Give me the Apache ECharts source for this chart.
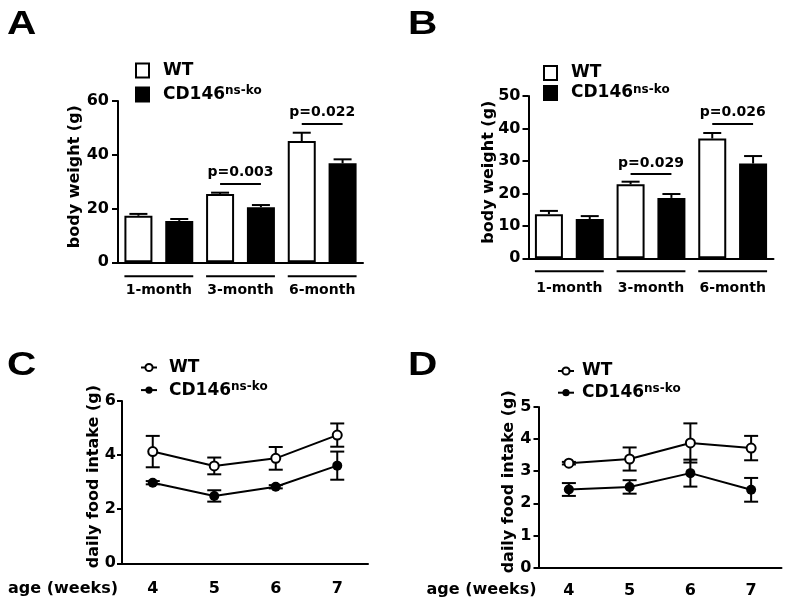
<!DOCTYPE html>
<html>
<head>
<meta charset="utf-8">
<script src="https://cdn.jsdelivr.net/npm/echarts@6/dist/echarts.min.js"></script>
<style>
  body { margin: 0; background: #fff; }
  .panel { position: absolute; }
</style>
</head>
<body>
<div id="pA" class="panel" style="left:0;top:0;width:400px;height:305px"></div>
<div id="pB" class="panel" style="left:400px;top:0;width:389px;height:305px"></div>
<div id="pC" class="panel" style="left:0;top:305px;width:400px;height:301px"></div>
<div id="pD" class="panel" style="left:400px;top:305px;width:389px;height:301px"></div>
<script>
// values (mean and SEM)
const ageGroups = ['1-month', '3-month', '6-month'];

const weightA_WT = [17.3, 25.4, 45.1];
const weightA_WT_sem = [0.7, 0.5, 3.1];
const weightA_KO = [15.4, 20.5, 36.8];
const weightA_KO_sem = [0.7, 0.8, 1.5];
const pA_groups = [1, 2];
const pA_level = [29.4, 51.5];
const pA_text = ['p=0.003', 'p=0.022'];

const weightB_WT = [13.6, 22.8, 36.9];
const weightB_WT_sem = [1.0, 0.8, 1.7];
const weightB_KO = [12.1, 18.6, 29.2];
const weightB_KO_sem = [0.9, 1.2, 2.3];
const pB_groups = [1, 2];
const pB_level = [25.9, 41.5];
const pB_text = ['p=0.029', 'p=0.026'];

const weeks = ['4', '5', '6', '7'];
const foodC_WT = [4.13, 3.60, 3.88, 4.74];
const foodC_WT_sem = [0.58, 0.31, 0.42, 0.43];
const foodC_KO = [2.98, 2.49, 2.83, 3.61];
const foodC_KO_sem = [0.06, 0.21, 0.06, 0.52];

const foodD_WT = [3.25, 3.38, 3.88, 3.72];
const foodD_WT_sem = [0.04, 0.36, 0.61, 0.38];
const foodD_KO = [2.43, 2.51, 2.94, 2.42];
const foodD_KO_sem = [0.20, 0.21, 0.42, 0.37];

const KO = 'CD146ns-ko';
const FONT = 'DejaVu Sans';
const txt = { fontFamily: FONT, fontWeight: 'bold', color: '#000' };
const black = { color: '#000', width: 2 };

function legendFmt(name) {
  return name === KO ? 'CD146{sup|ns-ko}' : name;
}
const legendText = {
  fontFamily: FONT, fontWeight: 'bold', color: '#000', fontSize: 17, lineHeight: 19,
  rich: { sup: { fontFamily: FONT, fontWeight: 'bold', color: '#000', fontSize: 12, verticalAlign: 'top' } }
};

function letter(t, x, y) {
  return {
    type: 'text', x: x, y: y, scaleX: 1.23,
    style: { text: t, font: 'bold 33px "Liberation Sans"', fill: '#000', verticalAlign: 'middle' }
  };
}

function errBar(capBoth) {
  return function (params, api) {
    const x = api.value(0);
    const lo = api.coord([x, api.value(1)]);
    const hi = api.coord([x, api.value(2)]);
    const w = capBoth ? 7 : 9;
    const st = { stroke: '#000', lineWidth: 2 };
    const kids = [
      { type: 'line', shape: { x1: lo[0], y1: lo[1], x2: hi[0], y2: hi[1] }, style: st },
      { type: 'line', shape: { x1: hi[0] - w, y1: hi[1], x2: hi[0] + w, y2: hi[1] }, style: st }
    ];
    if (capBoth) kids.push({ type: 'line', shape: { x1: lo[0] - w, y1: lo[1], x2: lo[0] + w, y2: lo[1] }, style: st });
    return { type: 'group', children: kids };
  };
}

function barPanel(id, c) {
  const chart = echarts.init(document.getElementById(id), null, { renderer: 'canvas' });
  const slots = [], wt = [], ko = [], err = [];
  ageGroups.forEach(function (g, i) {
    slots.push('WT ' + g, 'KO ' + g);
    wt.push(c.wt[i], '-');
    ko.push('-', c.ko[i]);
    err.push([2 * i, c.wt[i], c.wt[i] + c.wtSem[i]]);
    err.push([2 * i + 1, c.ko[i], c.ko[i] + c.koSem[i]]);
  });
  const brackets = ageGroups.map(function (g, i) { return [2 * i, 2 * i + 1]; });
  const pLines = c.pGroups.map(function (g, i) {
    return [{ name: c.pText[i], coord: [2 * g, c.pLevel[i]] }, { coord: [2 * g + 1, c.pLevel[i]] }];
  });
  chart.setOption({
    animation: false,
    graphic: [letter(c.letter, c.lx, 25)],
    legend: {
      data: ['WT', KO], orient: 'vertical', left: c.legLeft, top: c.legTop, itemGap: c.legGap,
      icon: 'rect', itemWidth: 13, itemHeight: 14, selectedMode: false,
      formatter: legendFmt, textStyle: Object.assign({ padding: [0, 0, 0, 9] }, legendText)
    },
    grid: { left: c.grid[0], top: c.grid[1], width: c.grid[2], height: c.grid[3], outerBoundsMode: 'none' },
    xAxis: [{
      type: 'category', data: slots, boundaryGap: true,
      axisLine: { lineStyle: black },
      axisTick: { alignWithLabel: true, interval: 0, length: 6, lineStyle: black },
      axisLabel: { show: false }
    }, {
      type: 'category', data: ageGroups, position: 'bottom',
      axisLine: { show: false }, axisTick: { show: false },
      axisLabel: Object.assign({ fontSize: 14, margin: c.groupMargin, interval: 0, hideOverlap: false }, txt)
    }],
    yAxis: {
      type: 'value', min: 0, max: c.yMax, interval: c.yStep,
      name: 'body weight (g)', nameLocation: 'middle', nameGap: c.nameGap, nameMoveOverlap: false,
      nameTextStyle: Object.assign({ fontSize: 16, padding: [0, 0, 0, 10] }, txt),
      axisLine: { show: true, lineStyle: black },
      axisTick: { show: true, length: 6, lineStyle: black },
      axisLabel: Object.assign({ fontSize: 16, margin: c.labMargin }, txt),
      splitLine: { show: false }
    },
    series: [{
      name: 'WT', type: 'bar', data: wt, barWidth: 28, barGap: '-100%',
      itemStyle: { color: '#fff', borderColor: '#000', borderWidth: 2 }
    }, {
      name: KO, type: 'bar', data: ko, barWidth: 28, barGap: '-100%',
      itemStyle: { color: '#000', borderColor: '#000', borderWidth: 2 },
      markLine: {
        silent: true, symbol: ['none', 'none'], data: pLines,
        lineStyle: { type: 'solid', color: '#000', width: 2 },
        label: Object.assign({ show: true, position: 'middle', formatter: '{b}', fontSize: 14, distance: 4 }, txt),
        emphasis: { disabled: true }
      }
    }, {
      type: 'custom', data: err, renderItem: errBar(false), clip: false, silent: true, z: 3
    }, {
      type: 'custom', data: brackets, clip: false, silent: true,
      renderItem: function (params, api) {
        const a = api.coord([api.value(0), 0]);
        const b = api.coord([api.value(1), 0]);
        return {
          type: 'line',
          shape: { x1: a[0] - 14, y1: a[1] + c.brGap, x2: b[0] + 14, y2: b[1] + c.brGap },
          style: { stroke: '#000', lineWidth: 2 }
        };
      }
    }]
  });
}

function linePanel(id, c) {
  const chart = echarts.init(document.getElementById(id), null, { renderer: 'canvas' });
  const errWT = c.wt.map(function (v, i) { return [i, v - c.wtSem[i], v + c.wtSem[i]]; });
  const errKO = c.ko.map(function (v, i) { return [i, v - c.koSem[i], v + c.koSem[i]]; });
  chart.setOption({
    animation: false,
    graphic: [letter(c.letter, c.lx, c.ly)],
    legend: {
      data: ['WT', KO], orient: 'vertical', left: c.legLeft, top: c.legTop, itemGap: c.legGap,
      itemWidth: 16, itemHeight: 9, selectedMode: false,
      formatter: legendFmt, textStyle: Object.assign({ padding: [0, 0, 0, c.legPad] }, legendText)
    },
    grid: { left: c.grid[0], top: c.grid[1], width: c.grid[2], height: c.grid[3], outerBoundsMode: 'none' },
    xAxis: {
      type: 'category', data: weeks, boundaryGap: true,
      name: 'age (weeks)', nameLocation: 'start', nameGap: c.xNameGap, nameMoveOverlap: false,
      nameTextStyle: Object.assign({ fontSize: 16, verticalAlign: 'top', lineHeight: c.xNameLH }, txt),
      axisLine: { lineStyle: black },
      axisTick: { alignWithLabel: true, interval: 0, length: 6, lineStyle: black },
      axisLabel: Object.assign({ fontSize: 16, margin: c.xMargin }, txt)
    },
    yAxis: {
      type: 'value', min: 0, max: c.yMax, interval: c.yStep,
      name: 'daily food intake (g)', nameLocation: 'middle', nameGap: c.nameGap, nameMoveOverlap: false,
      nameTextStyle: Object.assign({ fontSize: 16, padding: [0, 0, 0, 11] }, txt),
      axisLine: { show: true, lineStyle: black },
      axisTick: { show: true, length: 5, lineStyle: black },
      axisLabel: Object.assign({ fontSize: 16, margin: c.labMargin }, txt),
      splitLine: { show: false }
    },
    series: [{
      type: 'custom', data: errWT, renderItem: errBar(true), clip: false, silent: true, z: 1
    }, {
      type: 'custom', data: errKO, renderItem: errBar(true), clip: false, silent: true, z: 1
    }, {
      name: 'WT', type: 'line', data: c.wt, symbol: 'emptyCircle', symbolSize: 9, z: 3,
      lineStyle: black, itemStyle: { color: '#000', borderColor: '#000', borderWidth: 2 }
    }, {
      name: KO, type: 'line', data: c.ko, symbol: 'circle', symbolSize: 10, z: 3,
      lineStyle: black, itemStyle: { color: '#000' }
    }]
  });
}

barPanel('pA', {
  letter: 'A', lx: 7, wt: weightA_WT, wtSem: weightA_WT_sem, ko: weightA_KO, koSem: weightA_KO_sem,
  pGroups: pA_groups, pLevel: pA_level, pText: pA_text, yMax: 60, yStep: 20,
  grid: [118, 101, 245, 161.3], legLeft: 130, legTop: 56, legGap: 5,
  nameGap: 35, labMargin: 9, groupMargin: 21, brGap: 14
});
barPanel('pB', {
  letter: 'B', lx: 8, wt: weightB_WT, wtSem: weightB_WT_sem, ko: weightB_KO, koSem: weightB_KO_sem,
  pGroups: pB_groups, pLevel: pB_level, pText: pB_text, yMax: 50, yStep: 10,
  grid: [128.5, 96, 245, 162.3], legLeft: 138, legTop: 58.5, legGap: 1,
  nameGap: 32, labMargin: 8, groupMargin: 23, brGap: 13
});
linePanel('pC', {
  letter: 'C', lx: 7, ly: 61, wt: foodC_WT, wtSem: foodC_WT_sem, ko: foodC_KO, koSem: foodC_KO_sem,
  yMax: 6, yStep: 2, grid: [122, 96, 246, 162.3], legLeft: 135, legTop: 48, legGap: 3.6, legPad: 7,
  nameGap: 20, labMargin: 6, xMargin: 18, xNameGap: 4, xNameLH: 52
});
linePanel('pD', {
  letter: 'D', lx: 8, ly: 61, wt: foodD_WT, wtSem: foodD_WT_sem, ko: foodD_KO, koSem: foodD_KO_sem,
  yMax: 5, yStep: 1, grid: [138.5, 102, 243, 160.5], legLeft: 152, legTop: 51.5, legGap: 2.7, legPad: 3,
  nameGap: 22, labMargin: 7, xMargin: 15, xNameGap: 2, xNameLH: 45
});
</script>
</body>
</html>
